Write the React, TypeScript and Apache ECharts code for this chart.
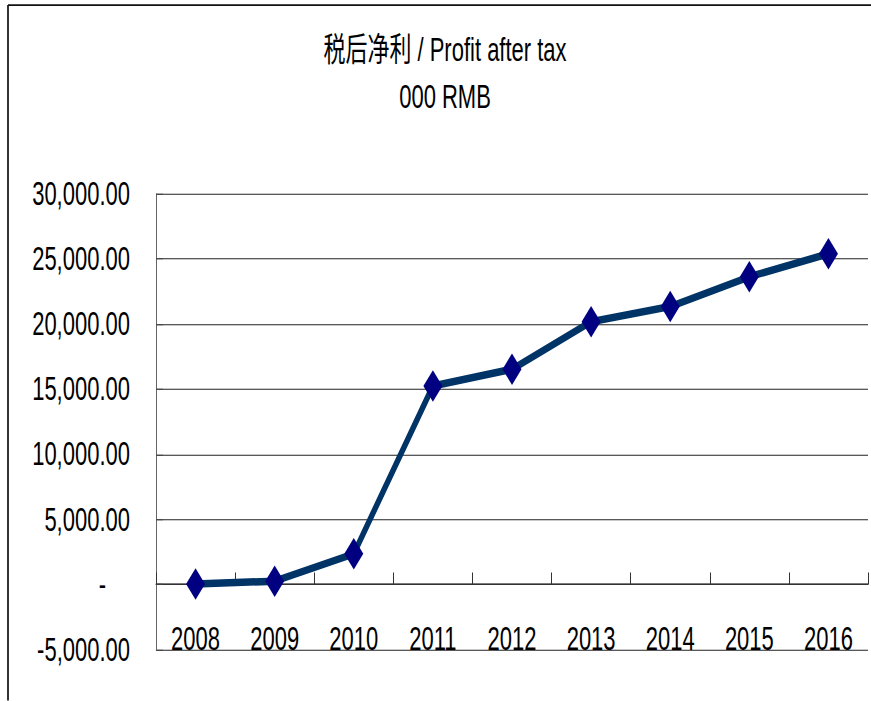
import React, { useEffect, useRef } from "react";
import * as echarts from "echarts";

const years = ["2008", "2009", "2010", "2011", "2012", "2013", "2014", "2015", "2016"];
const profit = [30, 250, 2350, 15250, 16540, 20180, 21350, 23640, 25410];
const yMin = -5000;
const yMax = 30000;
const yStep = 5000;
const titleText = "税后净利 / Profit after tax\n000 RMB";

const K = 1.5; // vertical stretch of the reference picture
const W = 871;
const H = 701 / K;
const FONT = "'Liberation Sans', Arial, 'Noto Sans CJK SC', sans-serif";

function fmt(v: number): string {
  if (v === 0) return "{z|-}";
  return v.toLocaleString("en-US", { minimumFractionDigits: 2, maximumFractionDigits: 2 });
}

export default function App() {
  const ref = useRef<HTMLDivElement>(null);
  useEffect(() => {
    if (!ref.current) return;
    const chart = echarts.init(ref.current, null, { renderer: "svg" });
    chart.setOption({
      animation: false,
      backgroundColor: "#ffffff",
      title: {
        text: titleText,
        left: 445,
        top: 18,
        padding: 0,
        textAlign: "center",
        textStyle: { fontFamily: FONT, fontSize: 22, fontWeight: "normal", color: "#000", lineHeight: 31 },
      },
      graphic: [
        { type: "line", shape: { x1: 8, y1: 3.4, x2: 8, y2: H }, style: { stroke: "#333", lineWidth: 2 } },
        { type: "line", shape: { x1: 8, y1: 3.4, x2: W, y2: 3.4 }, style: { stroke: "#111", lineWidth: 1.3 } },
      ],
      grid: {
        left: 156,
        right: 3,
        top: 194 / K,
        bottom: H - 650 / K,
        containLabel: false,
        outerBoundsMode: "none",
      },
      xAxis: {
        type: "category",
        data: years,
        boundaryGap: true,
        axisLine: { show: true, onZero: true, lineStyle: { color: "#333", width: 0.9 } },
        axisTick: { show: true, inside: true, length: 8, lineStyle: { color: "#333", width: 1 } },
        axisLabel: { margin: -18, fontFamily: FONT, fontSize: 22, color: "#000", interval: 0 },
        splitLine: { show: false },
      },
      yAxis: {
        type: "value",
        min: yMin,
        max: yMax,
        interval: yStep,
        axisLine: { show: true, lineStyle: { color: "#666", width: 1 } },
        axisTick: { show: true, inside: true, length: 7, lineStyle: { color: "#444", width: 0.67 } },
        splitLine: { show: true, lineStyle: { color: "#222", width: 0.67 } },
        axisLabel: {
          margin: 26,
          fontFamily: FONT,
          fontSize: 22,
          color: "#000",
          formatter: fmt,
          rich: { z: { fontFamily: FONT, fontSize: 22, color: "#000", padding: [0, 24, 0, 0] } },
        },
      },
      series: [
        {
          type: "line",
          data: profit,
          symbol: "diamond",
          symbolSize: [19, 21],
          itemStyle: { color: "#000080" },
          lineStyle: { color: "#003366", width: 5 },
        },
      ],
    });
    return () => chart.dispose();
  }, []);
  return (
    <div
      style={{
        position: "absolute",
        left: 0,
        top: 0,
        width: W,
        height: H,
        transform: `scaleY(${K})`,
        transformOrigin: "0 0",
        background: "#fff",
      }}
    >
      <div ref={ref} style={{ width: W, height: H }} />
    </div>
  );
}
